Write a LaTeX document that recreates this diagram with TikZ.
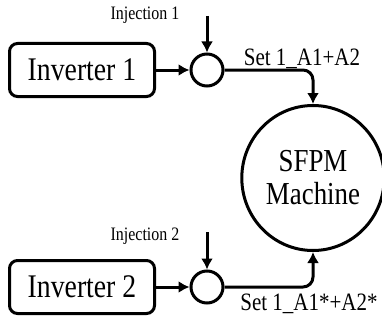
\documentclass[tikz,border=0pt]{standalone}
\usepackage{fontspec}
\setmainfont{Liberation Serif}[FakeStretch=0.84]
\usetikzlibrary{arrows.meta,shapes.geometric}

\tikzset{
    bloc/.style={draw, line width=3pt, rounded corners=8pt,
        minimum width=145pt, minimum height=53pt, font=\fontsize{33}{33}\selectfont},
    somme/.style={draw, circle, line width=3pt, minimum size=32pt, inner sep=0pt},
    fleche/.style={line width=3pt, -{Latex[length=11pt,width=12pt]}}
}

\begin{document}
\begin{tikzpicture}[x=1pt,y=-1pt]

\useasboundingbox (0,0) rectangle (382,321);

% Onduleurs
\node[bloc] (inv1) at (82,70) {Inverter 1};
\node[bloc] (inv2) at (82,287) {Inverter 2};

% Sommateurs
\node[somme] (sum1) at (207,70) {};
\node[somme] (sum2) at (207,287) {};

% Machine
\node[draw, ellipse, line width=3pt,
    minimum width=134pt, minimum height=145pt,
    align=center, font=\fontsize{32}{33}\selectfont]
(machine) at (313,178) {SFPM\\Machine};

% Injections
\coordinate (inj1) at (207,16);
\coordinate (inj2) at (207,232);

\node[font=\fontsize{19}{19}\selectfont] (txtinj1) at (145,15) {Injection 1};
\node[font=\fontsize{19}{19}\selectfont] (txtinj2) at (145,236) {Injection 2};

\draw[fleche] (inj1) -- (sum1);
\draw[fleche] (inj2) -- (sum2);

% Liaisons
\draw[fleche] (inv1) -- (sum1);
\draw[fleche] (inv2) -- (sum2);

\draw[fleche, rounded corners=10pt]
(sum1.east)
-|
(machine.north);

\draw[fleche, rounded corners=10pt]
(sum2.east)
-|
(machine.south);

\node[font=\fontsize{25}{25}\selectfont] (set1) at (302,59) {Set 1\_A1+A2};
\node[font=\fontsize{25}{25}\selectfont] (set2) at (309,304) {Set 1\_A1*+A2*};

\end{tikzpicture}
\end{document}
